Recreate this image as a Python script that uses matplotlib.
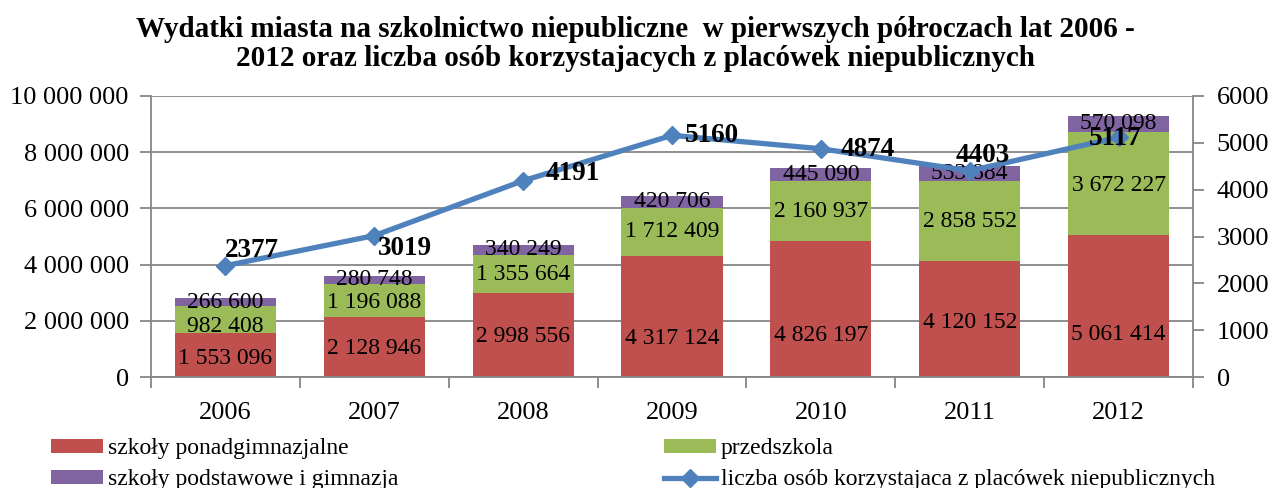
import matplotlib
matplotlib.use("Agg")
from matplotlib import pyplot as plt
from matplotlib.ticker import FuncFormatter, FixedLocator
import numpy as np

plt.rcParams['font.family'] = ['Liberation Serif', 'DejaVu Serif']

years = ["2006", "2007", "2008", "2009", "2010", "2011", "2012"]
ponadgim = [1553096, 2128946, 2998556, 4317124, 4826197, 4120152, 5061414]
przedszkola = [982408, 1196088, 1355664, 1712409, 2160937, 2858552, 3672227]
podst_gim = [266600, 280748, 340249, 420706, 445090, 533884, 570098]
osoby = [2377, 3019, 4191, 5160, 4874, 4403, 5117]

# manual nudges of labels (pixels), as in the source chart
red_dy = [-3, -1, -2, -22, -26, -3, -29]
green_dy = [-7, -2, -1, 0, 0, 0, -2]
line_dx = [26, 31, 50, 40, 47, 13, -3]
line_dy = [15, -13, 7, 0, -1, 15, -1]

RED = "#C0504D"
GREEN = "#9BBB59"
PURPLE = "#8064A2"
BLUE = "#4F81BD"
GRID = "#868686"


def fmt_space(v, pos=None):
    return "{:,.0f}".format(v).replace(",", " ")


fig = plt.figure(figsize=(12.71, 4.88), dpi=100)
ax = fig.add_axes([151 / 1271, 1 - 377 / 488, 1042 / 1271, 281 / 488])

x = np.arange(len(years))
w = 0.68
b1 = ax.bar(x, ponadgim, w, color=RED, zorder=2, label="szkoły ponadgimnazjalne")
b2 = ax.bar(x, przedszkola, w, bottom=ponadgim, color=GREEN, zorder=2, label="przedszkola")
bottom3 = np.array(ponadgim) + np.array(przedszkola)
b3 = ax.bar(x, podst_gim, w, bottom=bottom3, color=PURPLE, zorder=2,
            label="szkoły podstawowe i gimnazja")

ax.set_xlim(-0.5, len(years) - 0.5)
ax.set_ylim(0, 10000000)
ax.set_yticks(np.arange(0, 10000001, 2000000))
ax.yaxis.set_major_formatter(FuncFormatter(fmt_space))
ax.grid(axis="y", color=GRID, linewidth=1.3, zorder=0)
ax.set_axisbelow(True)

ax.set_xticks(x)
ax.set_xticklabels(years)
ax.xaxis.set_minor_locator(FixedLocator(np.arange(-0.5, len(years), 1.0)))
ax.tick_params(axis="x", which="major", length=0, pad=18, labelsize=19)
ax.tick_params(axis="x", which="minor", length=8, color=GRID, width=1.3)
ax.tick_params(axis="y", length=8, color=GRID, width=1.3, pad=8, labelsize=19)

for sp in ["top", "right"]:
    ax.spines[sp].set_visible(False)
for sp in ["left", "bottom"]:
    ax.spines[sp].set_color(GRID)
    ax.spines[sp].set_linewidth(1.3)

px = 0.72
for i in range(len(years)):
    ax.annotate(fmt_space(ponadgim[i]), (x[i], ponadgim[i] / 2), xytext=(0, red_dy[i] * px),
                textcoords="offset points", ha="center", va="center", fontsize=17, zorder=3)
    ax.annotate(fmt_space(przedszkola[i]), (x[i], ponadgim[i] + przedszkola[i] / 2),
                xytext=(0, green_dy[i] * px), textcoords="offset points",
                ha="center", va="center", fontsize=17, zorder=3)
    ax.annotate(fmt_space(podst_gim[i]), (x[i], bottom3[i] + podst_gim[i] / 2),
                ha="center", va="center", fontsize=17, zorder=3)

ax2 = ax.twinx()
ax2.set_ylim(0, 6000)
ax2.set_yticks(np.arange(0, 6001, 1000))
ln, = ax2.plot(x, osoby, color=BLUE, linewidth=3.8, marker="D", markersize=9,
               label="liczba osób korzystajaca z placówek niepublicznych", zorder=4)
for i in range(len(years)):
    ax2.annotate(str(osoby[i]), (x[i], osoby[i]), xytext=(line_dx[i] * px, line_dy[i] * px),
                 textcoords="offset points", ha="center", va="center",
                 fontsize=19.5, fontweight="bold", zorder=5)
ax2.tick_params(axis="y", length=8, color=GRID, width=1.3, pad=9, labelsize=19)
for sp in ["top", "left", "bottom"]:
    ax2.spines[sp].set_visible(False)
ax2.spines["right"].set_color(GRID)
ax2.spines["right"].set_linewidth(1.3)

fig.text(0.5, 1 - 44 / 488,
         "Wydatki miasta na szkolnictwo niepubliczne  w pierwszych półroczach lat 2006 -\n"
         "2012 oraz liczba osób korzystajacych z placówek niepublicznych",
         ha="center", va="center", fontsize=21, fontweight="bold", linespacing=1.12)

fig.legend(handles=[b1, b3, b2, ln], ncol=2, loc="upper left",
           bbox_to_anchor=(30 / 1271, 1 - 417 / 488), frameon=False, fontsize=17,
           handlelength=2.2, handleheight=0.5, handletextpad=0.2,
           columnspacing=11.25, labelspacing=0.42)

fig.savefig("out.png", dpi=100)
